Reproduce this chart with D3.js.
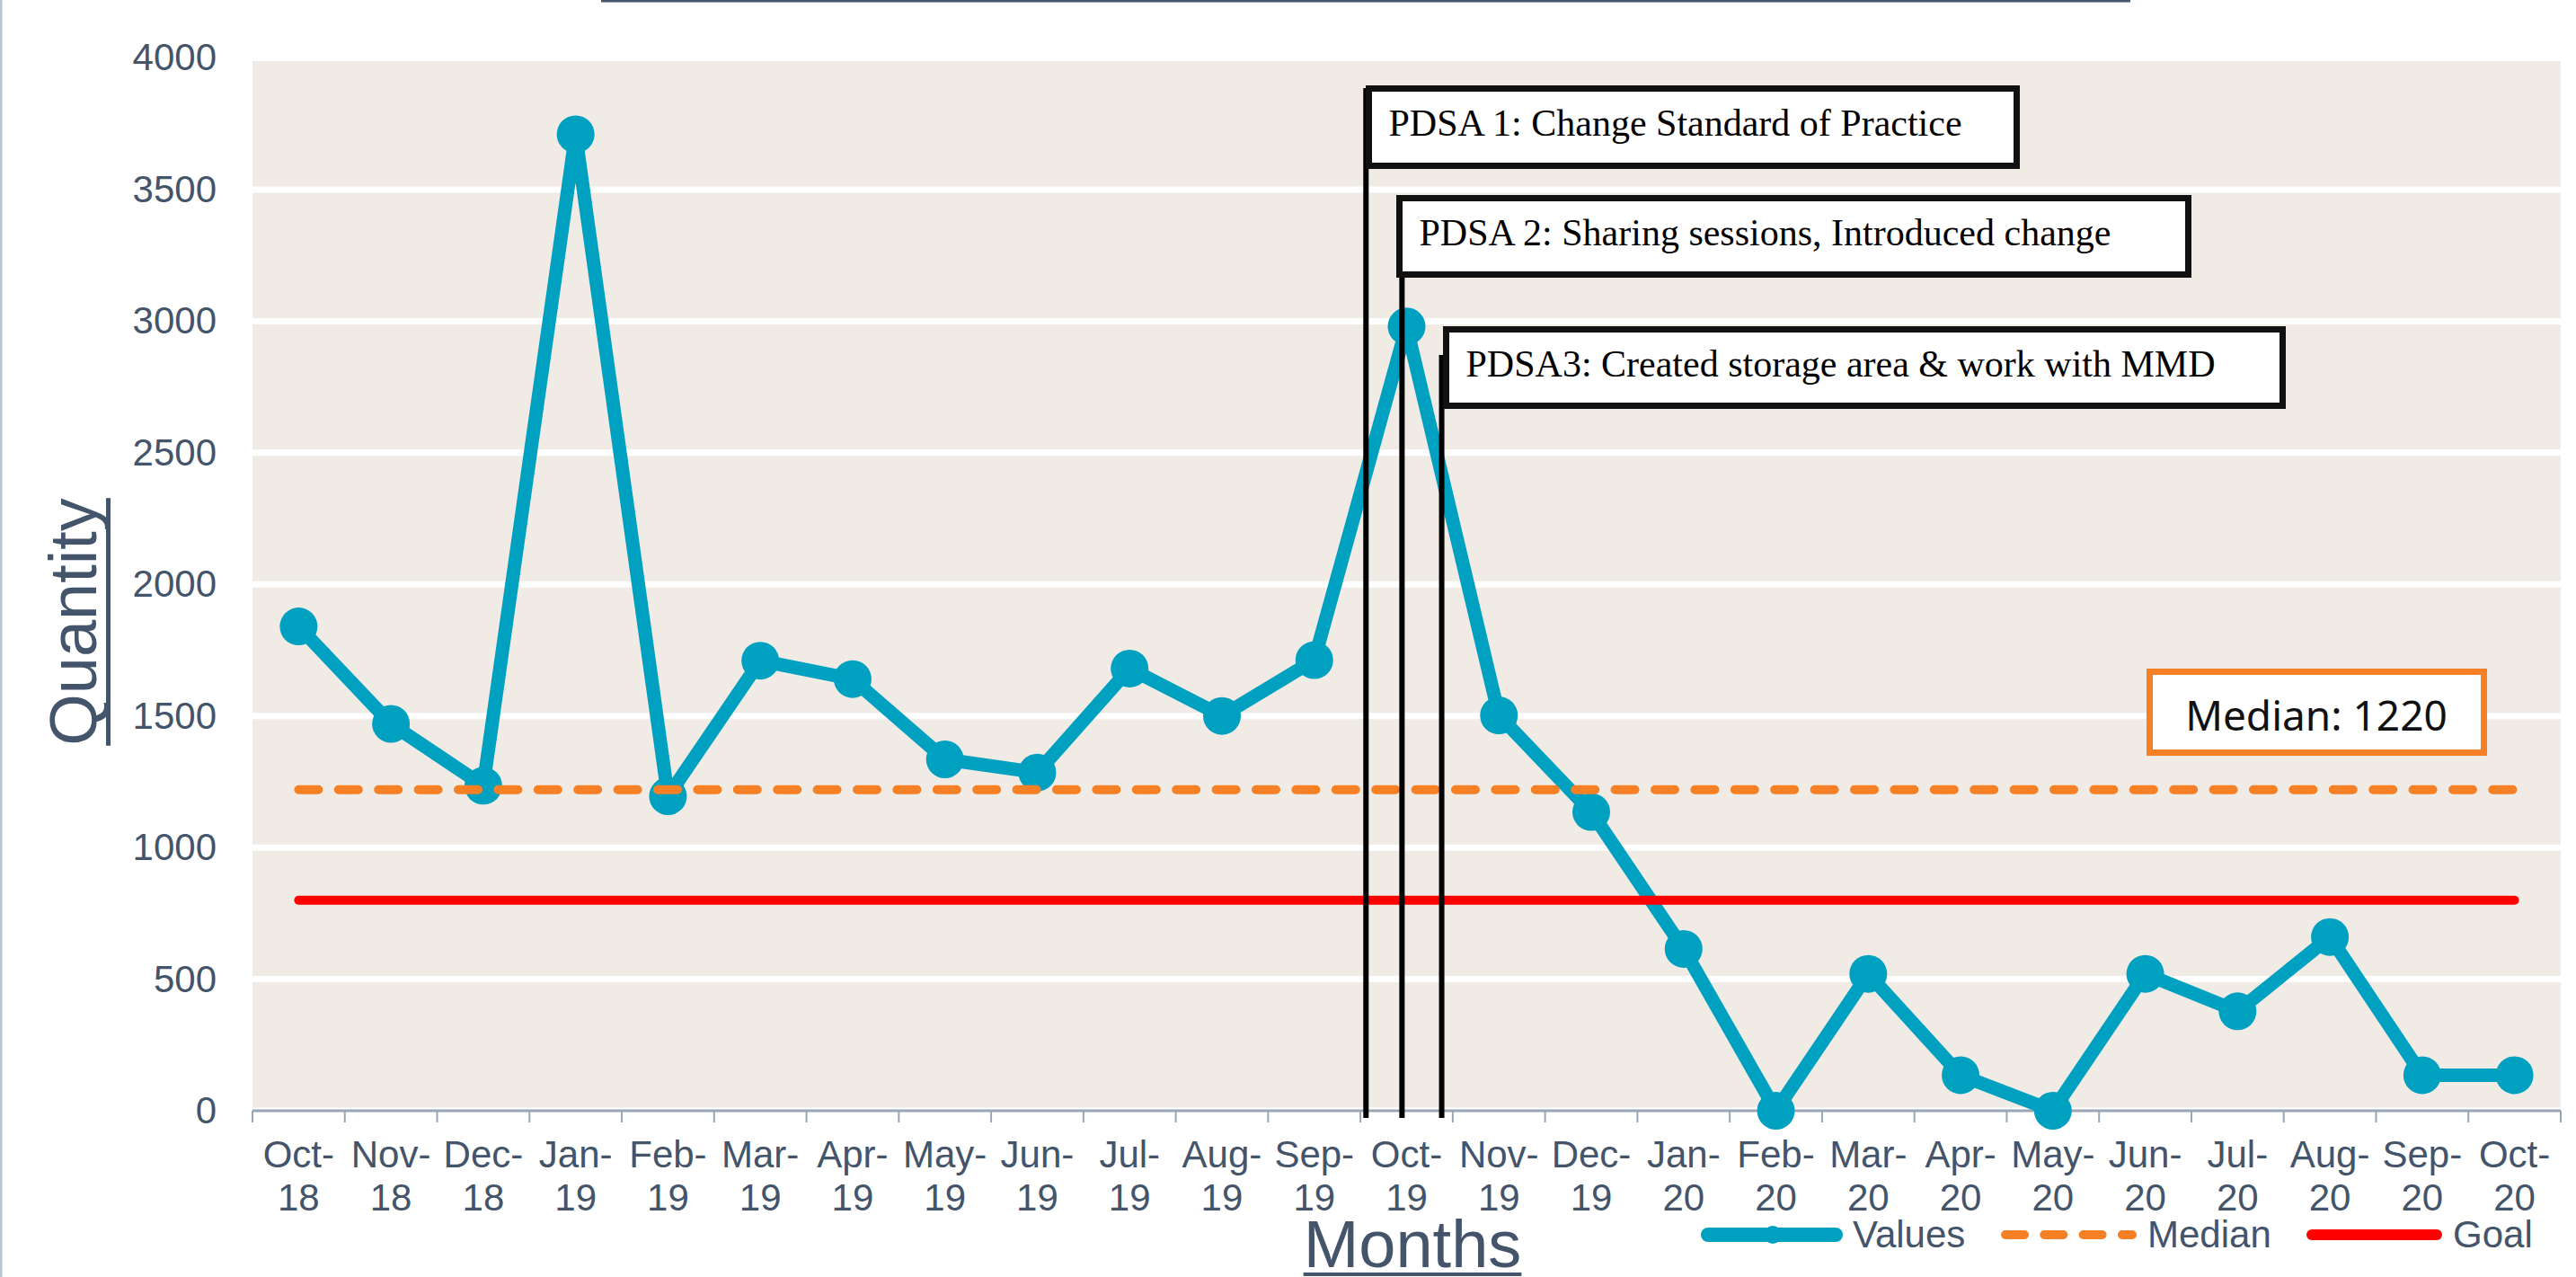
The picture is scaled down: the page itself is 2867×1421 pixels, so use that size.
<!DOCTYPE html>
<html lang="en">
<head>
    <meta charset="UTF-8">
    <title>Run Chart - Quantity by Month</title>
    <script src="https://d3js.org/d3.v7.min.js"></script>
    <style>
        body { margin: 0; background: #fff; }
        text { font-family: "Liberation Sans", Arial, sans-serif; }
    </style>
</head>
<body>
    <div id="chart"></div>

    <script>
        // Data
        const months = ["Oct-18", "Nov-18", "Dec-18", "Jan-19", "Feb-19", "Mar-19", "Apr-19", "May-19",
            "Jun-19", "Jul-19", "Aug-19", "Sep-19", "Oct-19", "Nov-19", "Dec-19", "Jan-20", "Feb-20",
            "Mar-20", "Apr-20", "May-20", "Jun-20", "Jul-20", "Aug-20", "Sep-20", "Oct-20"];
        const values = [1840, 1470, 1235, 3710, 1195, 1710, 1640, 1335, 1285, 1680, 1500, 1712, 2980,
            1502, 1135, 615, 0, 520, 135, 0, 520, 378, 660, 135, 135];
        const medianValue = 1220;
        const goalValue = 800;
        const yTicks = [0, 500, 1000, 1500, 2000, 2500, 3000, 3500, 4000];

        // PDSA annotations: month they sit in and how far into that month
        const pdsaLabels = ["PDSA 1: Change Standard of Practice",
            "PDSA 2: Sharing sessions, Introduced change",
            "PDSA3: Created storage area & work with MMD"];
        const pdsaMonth = ["Oct-19", "Oct-19", "Oct-19"];
        const pdsaOffset = [0.06, 0.45, 0.88];

        const legendNames = ["Values", "Median", "Goal"];

        const width = 2867, height = 1421;
        const margin = { top: 64.5, right: 17, bottom: 185, left: 281 };
        const textColor = "#44546a";
        const teal = "#00a0c1", orange = "#f58025", red = "#ff0000";

        const svg = d3.select("#chart").append("svg")
            .attr("width", width)
            .attr("height", height);

        const x = d3.scaleBand()
            .domain(months)
            .range([margin.left, width - margin.right])
            .padding(0);
        const y = d3.scaleLinear()
            .domain([0, 4000])
            .range([height - margin.bottom, margin.top]);
        const cx = d => x(d) + x.bandwidth() / 2;

        // left border and the cut off title underline at the top
        svg.append("rect").attr("x", 0).attr("y", 0).attr("width", 2.5).attr("height", height).attr("fill", "#b9c5d1");
        svg.append("rect").attr("x", 669).attr("y", 0).attr("width", 1702).attr("height", 2.5).attr("fill", textColor);

        // plot background
        svg.append("rect")
            .attr("x", x.range()[0]).attr("y", y(4000))
            .attr("width", x.range()[1] - x.range()[0])
            .attr("height", y(0) - y(4000))
            .attr("fill", "#f0ebe5");

        // gridlines
        svg.append("g").selectAll("line")
            .data(yTicks)
            .join("line")
            .attr("x1", x.range()[0]).attr("x2", x.range()[1])
            .attr("y1", d => y(d)).attr("y2", d => y(d))
            .attr("stroke", "#fff").attr("stroke-width", 7);

        // y axis labels
        const yAxis = svg.append("g")
            .attr("transform", `translate(${margin.left},0)`)
            .call(d3.axisLeft(y).tickValues(yTicks).tickFormat(d3.format("d")).tickSize(0).tickPadding(40));
        yAxis.select(".domain").remove();
        yAxis.selectAll("text")
            .attr("fill", textColor)
            .style("font-size", "42px")
            .style("font-family", "'Liberation Sans', Arial, sans-serif");

        // x axis line and boundary ticks
        const bounds = months.map(m => x(m)).concat([x.range()[1]]);
        svg.append("line")
            .attr("x1", x.range()[0]).attr("x2", x.range()[1])
            .attr("y1", y(0)).attr("y2", y(0))
            .attr("stroke", "#9aa6b3").attr("stroke-width", 3);
        svg.append("g").selectAll("line")
            .data(bounds)
            .join("line")
            .attr("x1", d => d).attr("x2", d => d)
            .attr("y1", y(0)).attr("y2", y(0) + 13)
            .attr("stroke", "#9aa6b3").attr("stroke-width", 2);

        // x tick labels on two lines
        const xLab = svg.append("g").selectAll("text")
            .data(months)
            .join("text")
            .attr("text-anchor", "middle")
            .attr("fill", textColor)
            .style("font-size", "42px");
        xLab.append("tspan")
            .attr("x", d => cx(d)).attr("y", y(0) + 63)
            .text(d => d.split("-")[0] + "-");
        xLab.append("tspan")
            .attr("x", d => cx(d)).attr("y", y(0) + 111)
            .text(d => d.split("-")[1]);

        // values line and markers
        const line = d3.line()
            .x((d, i) => cx(months[i]))
            .y(d => y(d));
        svg.append("path")
            .datum(values)
            .attr("d", line)
            .attr("fill", "none")
            .attr("stroke", teal)
            .attr("stroke-width", 15)
            .attr("stroke-linejoin", "round");
        svg.append("g").selectAll("circle")
            .data(values)
            .join("circle")
            .attr("cx", (d, i) => cx(months[i]))
            .attr("cy", d => y(d))
            .attr("r", 21)
            .attr("fill", teal);

        // median and goal
        const xFirst = cx(months[0]), xLast = cx(months[months.length - 1]);
        svg.append("line")
            .attr("x1", xFirst).attr("x2", xLast)
            .attr("y1", y(medianValue)).attr("y2", y(medianValue))
            .attr("stroke", orange).attr("stroke-width", 10)
            .attr("stroke-linecap", "round")
            .attr("stroke-dasharray", "22 22.4");
        svg.append("line")
            .attr("x1", xFirst).attr("x2", xLast)
            .attr("y1", y(goalValue)).attr("y2", y(goalValue))
            .attr("stroke", red).attr("stroke-width", 10)
            .attr("stroke-linecap", "round");

        // median label box
        svg.append("rect")
            .attr("x", 2392.5).attr("y", 747.5).attr("width", 372).attr("height", 90)
            .attr("fill", "#fff").attr("stroke", orange).attr("stroke-width", 7);
        svg.append("text")
            .attr("x", 2578).attr("y", y(1500) + 16)
            .attr("text-anchor", "middle")
            .attr("fill", "#111")
            .style("font-family", "'Noto Sans', 'Open Sans', sans-serif")
            .style("font-size", "46px")
            .text("Median: " + medianValue);

        // PDSA annotation boxes and lines
        const boxes = [
            { x: 1523.5, y: 98.5, w: 721, h: 86 },
            { x: 1557.5, y: 220.5, w: 878, h: 85 },
            { x: 1609.5, y: 366.5, w: 931, h: 85 }
        ];
        const lineTops = [98, 305, 395];
        pdsaLabels.forEach((label, i) => {
            const lx = x(pdsaMonth[i]) + pdsaOffset[i] * x.bandwidth();
            svg.append("line")
                .attr("x1", lx).attr("x2", lx)
                .attr("y1", lineTops[i]).attr("y2", y(0) + 8)
                .attr("stroke", "#000").attr("stroke-width", 6);
            const b = boxes[i];
            svg.append("rect")
                .attr("x", b.x).attr("y", b.y).attr("width", b.w).attr("height", b.h)
                .attr("fill", "#fff").attr("stroke", "#111").attr("stroke-width", 7);
            svg.append("text")
                .attr("x", b.x + 22).attr("y", b.y + 52)
                .attr("fill", "#000")
                .style("font-family", "'Liberation Serif', 'Times New Roman', serif")
                .style("font-size", "42px")
                .text(label);
        });

        // axis titles with underline
        const months_t = svg.append("text")
            .attr("x", 1572).attr("y", 1410)
            .attr("text-anchor", "middle")
            .attr("fill", textColor)
            .style("font-size", "74px")
            .text("Months");
        const mb = months_t.node().getBBox();
        svg.append("rect")
            .attr("x", mb.x).attr("y", 1416).attr("width", mb.width).attr("height", 4)
            .attr("fill", textColor);

        const qg = svg.append("g").attr("transform", "translate(107,692) rotate(-90)");
        const q_t = qg.append("text")
            .attr("text-anchor", "middle")
            .attr("fill", textColor)
            .style("font-size", "74px")
            .text("Quantity");
        const qb = q_t.node().getBBox();
        qg.append("rect")
            .attr("x", qb.x).attr("y", 11).attr("width", qb.width).attr("height", 5)
            .attr("fill", textColor);

        // legend
        const ly = 1374;
        const legend = svg.append("g");
        legend.append("line").attr("x1", 1901).attr("x2", 2043).attr("y1", ly).attr("y2", ly)
            .attr("stroke", teal).attr("stroke-width", 16).attr("stroke-linecap", "round");
        legend.append("circle").attr("cx", 1973).attr("cy", ly).attr("r", 10).attr("fill", teal);
        legend.append("line").attr("x1", 2232).attr("x2", 2373).attr("y1", ly).attr("y2", ly)
            .attr("stroke", orange).attr("stroke-width", 10).attr("stroke-linecap", "round")
            .attr("stroke-dasharray", "21 22.3");
        legend.append("line").attr("x1", 2573).attr("x2", 2712).attr("y1", ly).attr("y2", ly)
            .attr("stroke", red).attr("stroke-width", 12).attr("stroke-linecap", "round");
        const legendX = [2062, 2390, 2730];
        legend.selectAll("text")
            .data(legendNames)
            .join("text")
            .attr("x", (d, i) => legendX[i]).attr("y", 1388)
            .attr("fill", textColor)
            .style("font-size", "42px")
            .text(d => d);
    </script>
</body>
</html>
